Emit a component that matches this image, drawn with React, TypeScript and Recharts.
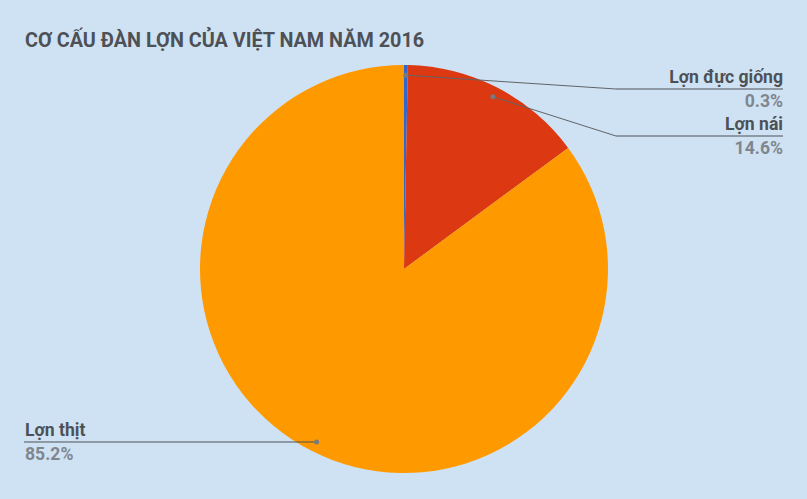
import { Pie, PieChart, Cell } from "recharts";

const categories = ["Lợn đực giống", "Lợn nái", "Lợn thịt"];
const shares = [0.3, 14.6, 85.2];
const colors = ["#3366cc", "#dc3912", "#ff9900"];
const title = "CƠ CẤU ĐÀN LỢN CỦA VIỆT NAM NĂM 2016";

const data = categories.map((name, i) => ({ name, value: shares[i] }));

const W = 807;
const H = 499;
const FONT = "Roboto, 'Noto Sans', sans-serif";
const RAD = Math.PI / 180;

function renderLabel(props: any) {
  const { cx, cy, midAngle, outerRadius, index, name, value } = props;
  const r = outerRadius * 0.95;
  const dx = cx + r * Math.cos(-midAngle * RAD);
  const dy = cy + r * Math.sin(-midAngle * RAD);
  const right = dx >= cx;
  const pct = `${value.toFixed(1)}%`;
  if (right) {
    const elbowX = cx + outerRadius + 8;
    const endX = W - 24;
    // stack right-side labels from the top of the pie
    const lineY = Math.max(dy, cy - outerRadius + 24 + index * 47);
    return (
      <g>
        <polyline
          points={`${dx},${dy} ${elbowX},${lineY}`}
          fill="none"
          stroke="#5f6368"
          strokeWidth={1}
        />
        <line x1={elbowX} y1={lineY} x2={endX} y2={lineY} stroke="#4d5156" strokeWidth={1} />
        <circle cx={dx} cy={dy} r={2.5} fill="#757b82" />
        <text x={endX} y={lineY - 6} textAnchor="end" fontFamily={FONT} fontSize={17.6} fontWeight="bold" fill="#4d5156">
          {name}
        </text>
        <text x={endX} y={lineY + 18} textAnchor="end" fontFamily={FONT} fontSize={17.6} fontWeight="bold" fill="#80868e">
          {pct}
        </text>
      </g>
    );
  }
  const startX = 24;
  return (
    <g>
      <line x1={startX} y1={dy} x2={dx} y2={dy} stroke="#4d5156" strokeWidth={1} />
      <circle cx={dx} cy={dy} r={2.5} fill="#757b82" />
      <text x={startX + 1} y={dy - 6} textAnchor="start" fontFamily={FONT} fontSize={17.6} fontWeight="bold" fill="#4d5156">
        {name}
      </text>
      <text x={startX + 1} y={dy + 18} textAnchor="start" fontFamily={FONT} fontSize={17.6} fontWeight="bold" fill="#80868e">
        {pct}
      </text>
    </g>
  );
}

export default function App() {
  return (
    <div style={{ position: "absolute", left: 0, top: 0, width: W, height: H, background: "#cfe2f3" }}>
      <PieChart width={W} height={H} margin={{ top: 0, right: 0, bottom: 0, left: 0 }}>
        <text x={25} y={47} fontFamily={FONT} fontSize={19.8} fontWeight="bold" fill="#4d5156">
          {title}
        </text>
        <Pie
          data={data}
          dataKey="value"
          nameKey="name"
          cx={404}
          cy={269}
          outerRadius={204}
          startAngle={90}
          endAngle={-270}
          stroke="none"
          label={renderLabel}
          labelLine={false}
          isAnimationActive={false}
        >
          {data.map((d, i) => (
            <Cell key={d.name} fill={colors[i]} />
          ))}
        </Pie>
      </PieChart>
    </div>
  );
}
